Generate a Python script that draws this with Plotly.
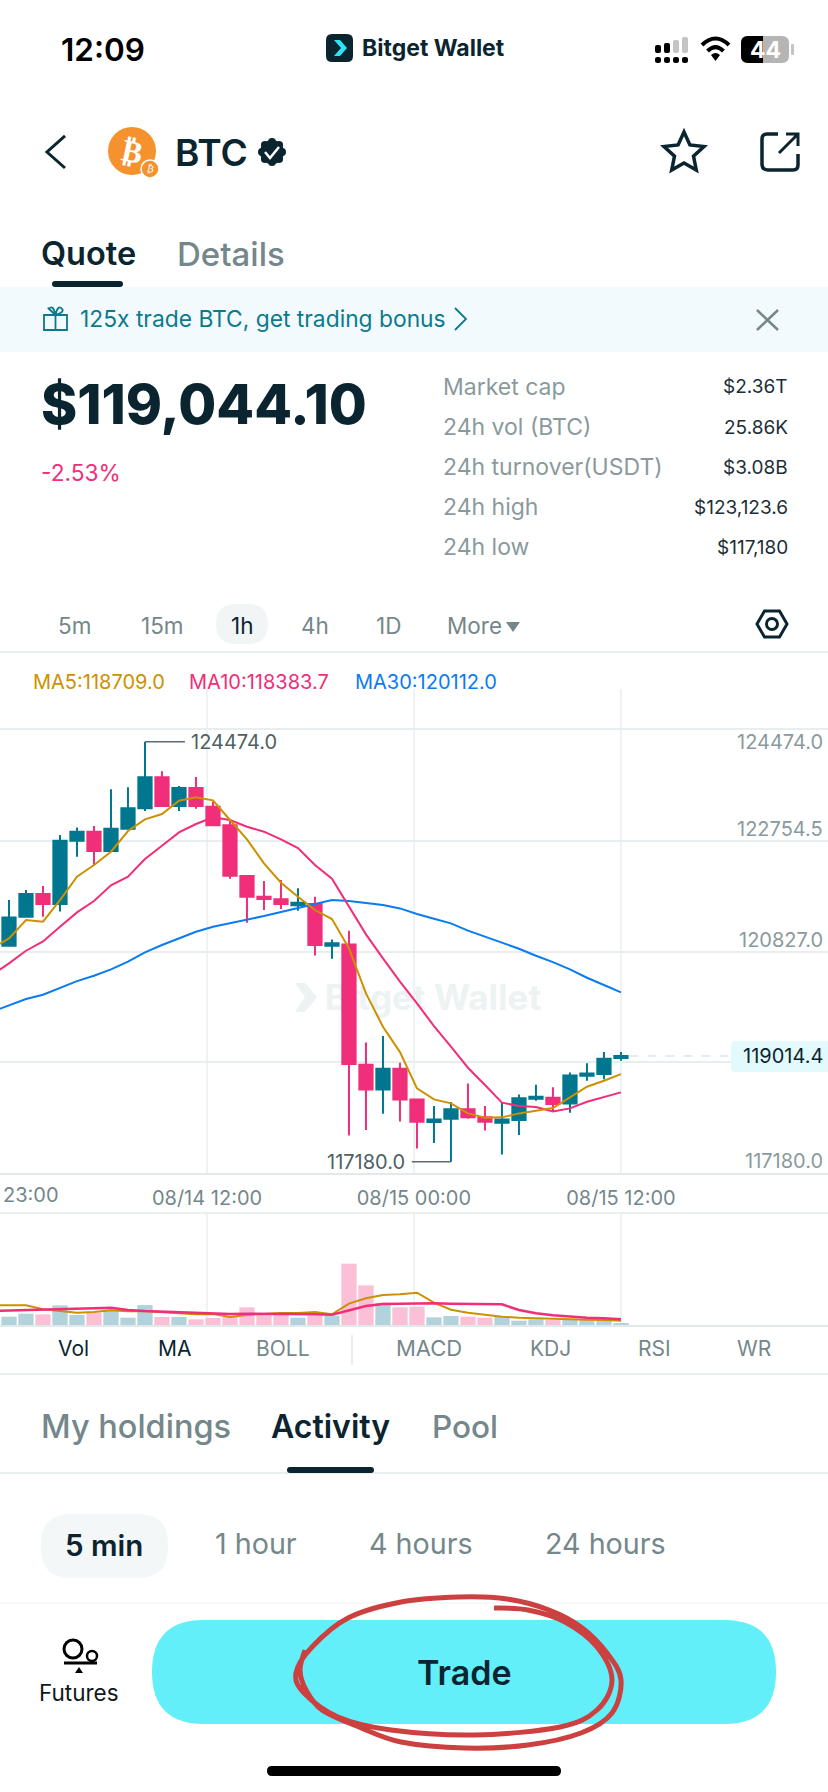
import math
import plotly.graph_objects as go

W, H = 828, 1792
FONT = "Inter"
DARK = "#0B2530"
GREY = "#74878A"
LINE = "#E2E9EA"
TEAL = "#00778F"
PINK = "#F02E79"
GOLD = "#CC9100"
BLUE = "#0A7CF0"

# candles, oldest first (1h)
OPEN = [120931, 121435, 121828, 121655, 122755, 122911, 122575, 122963, 123316, 123855,
        123357, 123669, 123345, 123021, 122141, 121782, 121736, 121632, 121655, 120931,
        120954, 118864, 118436, 118795, 118262, 117869, 117927, 118089, 117950, 117857,
        117903, 118274, 118291, 118193, 118673, 118702, 118980]
HIGH = [121724, 121898, 121967, 122853, 122986, 123009, 123646, 123681, 124474, 123959,
        123704, 123860, 123432, 123114, 122147, 122054, 122072, 121927, 121782, 121041,
        121192, 119252, 119362, 118899, 118262, 118147, 118216, 118540, 118147, 118205,
        118349, 118517, 118471, 118731, 118888, 119084, 119084]
LOW = [120931, 121435, 121435, 121527, 122477, 122320, 122575, 122963, 123270, 123357,
       123270, 123310, 123021, 122095, 121331, 121551, 121568, 121539, 120763, 120705,
       117637, 117730, 118014, 117880, 117411, 117504, 117180, 117927, 117724, 117307,
       117643, 118239, 118043, 118031, 118587, 118610, 118934]
CLOSE = [121423, 121828, 121655, 122755, 122911, 122575, 122963, 123316, 123855, 123357,
         123669, 123357, 123021, 122147, 121782, 121742, 121655, 121678, 120943, 120972,
         118876, 118436, 118795, 118262, 117875, 117915, 118089, 117950, 117875, 117915,
         118280, 118309, 118181, 118679, 118714, 118969, 119015]
VOLUME = [708, 963, 907, 1672, 850, 1048, 1218, 623, 1700, 680, 680, 482, 595, 708, 1502,
          850, 907, 623, 793, 793, 5213, 3372, 1898, 1502, 1558, 652, 765, 708, 623, 708,
          368, 482, 425, 453, 453, 453, 113]

# moving averages start one candle left of the screen
MA5 = [120885, 121058, 121377, 121348, 121724, 122129, 122332, 122564, 122923, 123125,
       123218, 123449, 123507, 123455, 123114, 122778, 122361, 122025, 121782, 121551,
       121394, 120885, 120103, 119524, 119084, 118453, 118262, 118193, 118019, 117944,
       117950, 118019, 118066, 118112, 118297, 118482, 118587, 118702]
MA10 = [120422, 120624, 120844, 121006, 121261, 121510, 121707, 121979, 122129, 122436,
        122668, 122899, 123044, 123160, 123114, 122998, 122911, 122778, 122627, 122332,
        122095, 121620, 121128, 120711, 120306, 119930, 119536, 119177, 118812, 118511,
        118205, 118147, 118129, 118054, 118106, 118222, 118309, 118384]
MA30 = [119785, 119901, 120005, 120080, 120202, 120317, 120410, 120520, 120653, 120815,
        120943, 121064, 121174, 121261, 121319, 121377, 121446, 121516, 121585, 121655,
        121724, 121707, 121678, 121637, 121579, 121481, 121400, 121319, 121192, 121087,
        120983, 120879, 120757, 120647, 120520, 120375, 120248, 120121]
VOL_MA5 = [1672, 1672, 1672, 1332, 1190, 1048, 1105, 1247, 1162, 1162, 1077, 992, 907, 935,
           680, 850, 935, 1020, 1020, 1105, 907, 1813, 2267, 2550, 2606, 2748, 1898, 1303,
           1048, 850, 708, 623, 567, 510, 482, 453, 425, 368]
VOL_MA10 = [1190, 1218, 1247, 1275, 1303, 1360, 1417, 1473, 1275, 1190, 1133, 1105, 1077,
            1020, 935, 963, 963, 935, 935, 907, 878, 1275, 1615, 1785, 1813, 1842, 1842,
            1813, 1813, 1757, 1757, 1275, 992, 822, 708, 623, 567, 482]

GRID_PRICES = [124695, 122754.5, 120827, 118912]
TIME_TICKS = [-0.47, 11.65, 23.82, 36]
TIME_LABELS = ["", "08/14 12:00", "08/15 00:00", "08/15 12:00"]
LAST_PRICE = 119014.4
MAX_PRICE = 124474
MIN_PRICE = 117180

candle_x = list(range(len(OPEN)))
ma_x = list(range(-1, len(OPEN)))
vol_colors = ["#B3D3DC" if c >= o else "#FBBFD6" for o, c in zip(OPEN, CLOSE)]

shapes = []
notes = []


def fx(x):
    return x / W


def fy(y):
    return 1 - y / H


def text(x, y, s, size, color=DARK, anchor="left", weight=400, family=FONT, angle=0):
    # annotations carry a little padding of their own
    x = x - 2 if anchor == "left" else x + 3 if anchor == "right" else x
    notes.append(dict(x=fx(x), y=fy(y), xref="paper", yref="paper", text=s, showarrow=False,
                      xanchor=anchor, yanchor="middle", textangle=angle,
                      font=dict(size=size, color=color, family=family, weight=weight)))


def svg(d, fill=None, color=None, width=0, layer="above"):
    out = []
    is_x = True
    for t in d.split():
        if t.isalpha():
            out.append(t)
        else:
            out.append(f"{fx(float(t)):.5f}" if is_x else f"{fy(float(t)):.5f}")
            is_x = not is_x
    s = dict(type="path", xref="paper", yref="paper", path=" ".join(out), layer=layer,
             line=dict(color=color or "rgba(0,0,0,0)", width=width))
    if fill:
        s["fillcolor"] = fill
    shapes.append(s)


def box(x0, y0, x1, y1, fill, r=0, color=None, width=0):
    if r == 0:
        d = f"M {x0} {y0} L {x1} {y0} L {x1} {y1} L {x0} {y1} Z"
    else:
        d = (f"M {x0 + r} {y0} L {x1 - r} {y0} Q {x1} {y0} {x1} {y0 + r} L {x1} {y1 - r} "
             f"Q {x1} {y1} {x1 - r} {y1} L {x0 + r} {y1} Q {x0} {y1} {x0} {y1 - r} "
             f"L {x0} {y0 + r} Q {x0} {y0} {x0 + r} {y0} Z")
    svg(d, fill=fill, color=color, width=width)


def dot(cx, cy, r, fill=None, color=None, width=0):
    s = dict(type="circle", xref="paper", yref="paper", x0=fx(cx - r), x1=fx(cx + r),
             y0=fy(cy + r), y1=fy(cy - r), line=dict(color=color or "rgba(0,0,0,0)", width=width))
    if fill:
        s["fillcolor"] = fill
    shapes.append(s)


def hline(x0, x1, y, color=LINE, width=1.5):
    svg(f"M {x0} {y} L {x1} {y}", color=color, width=width)


# status bar
text(61, 50, "12:09", 31.5, "#000000", weight=600)
box(326, 34, 353, 62, DARK, r=6)
svg("M 334 40 L 340 40 L 347 48 L 340 56 L 334 56 L 341 48 Z", fill="#2CE5F5")
text(362, 48, "Bitget Wallet", 23, DARK, weight=700)
for x, top, c in [(655, 45, "#000"), (664, 43, "#000"), (673, 40, "#C4C4C4"), (682, 37, "#C4C4C4")]:
    box(x, top, x + 6, 53, c, r=2)
    box(x, 57, x + 6, 63, "#000", r=2.5)
svg("M 702 45 Q 715.5 32 729 45", color="#000", width=4)
svg("M 707.5 51 Q 715.5 43 723.5 51", color="#000", width=4)
svg("M 711 55 Q 715.5 51 720 55 L 715.5 61 Z", fill="#000")
box(741, 36, 789, 63, "#B5B5B5", r=7)
svg("M 748 36 L 763 36 L 763 63 L 748 63 Q 741 63 741 56 L 741 43 Q 741 36 748 36 Z", fill="#000")
box(791, 44, 794, 55, "#C4C4C4", r=1)
text(765, 50, "44", 23, "#FFFFFF", anchor="center", weight=700)

# header
svg("M 65 136 L 47 152 L 65 168", color=DARK, width=3)
dot(132, 151, 24, fill="#F6922E")
text(132, 151, "₿", 31, "#FFFFFF", anchor="center", weight=700, family="DejaVu Sans", angle=12)
dot(150, 169, 9, fill="#F6922E", color="#FFFFFF", width=1.5)
text(150, 169, "₿", 10, "#FFFFFF", anchor="center", family="DejaVu Sans", angle=12)
text(175, 152, "BTC", 37, DARK, weight=600)
dot(272, 152, 12, fill=DARK)
for k in range(8):
    ang = k * math.pi / 4
    dot(272 + 10 * math.cos(ang), 152 + 10 * math.sin(ang), 4, fill=DARK)
svg("M 265 152 L 270 158 L 279 147", color="#FFFFFF", width=2.5)
star = []
for k in range(10):
    rad = 21 if k % 2 == 0 else 10
    ang = -math.pi / 2 + k * math.pi / 5
    star.append(f"{684 + rad * math.cos(ang):.1f} {153 + rad * math.sin(ang):.1f}")
svg("M " + " L ".join(star) + " Z", color=DARK, width=3.5)
svg("M 778 134 L 767 134 Q 762 134 762 139 L 762 164 Q 762 170 768 170 L 793 170 Q 798 170 798 165 L 798 154",
    color=DARK, width=3.5)
svg("M 779 153 L 798 134 M 786 134 L 798 134 L 798 146", color=DARK, width=3)

# tabs + banner
text(41, 254, "Quote", 32.5, DARK, weight=600)
text(177, 254, "Details", 33, GREY, weight=500)
box(52, 281, 123, 287, DARK, r=3)
box(0, 287, 828, 352, "#F2FAFD")
svg("M 44 315 L 67 315 L 67 330 L 44 330 Z M 55.5 315 L 55.5 330 M 55.5 315 Q 46 306 49 309 Q 53 304 55.5 315 Q 58 304 62 309 Q 65 312 55.5 315",
    color="#0B7A8C", width=1.8)
text(80, 318, "125x trade BTC, get trading bonus", 22.8, "#0B7A8C")
svg("M 455 308 L 466 319 L 455 330", color="#0B7A8C", width=1.8)
svg("M 757 310 L 778 330 M 778 310 L 757 330", color=GREY, width=2.5)

# price block
text(41, 404, "$119,044.10", 55, DARK, weight=800)
text(41, 472, "-2.53%", 22.7, PINK)
STAT_NAMES = ["Market cap", "24h vol (BTC)", "24h turnover(USDT)", "24h high", "24h low"]
STAT_VALUES = ["$2.36T", "25.86K", "$3.08B", "$123,123.6", "$117,180"]
STAT_ROWS = [387, 427, 467, 507, 547]
for name, value, y in zip(STAT_NAMES, STAT_VALUES, STAT_ROWS):
    text(443, y, name, 23, "#8A9A9C")
    text(787, y, value, 19, "#1C2E35", anchor="right")

# interval tabs
box(216, 604, 268, 644, "#F1F5F6", r=20)
for label, x in [("5m", 74), ("15m", 162), ("4h", 315), ("1D", 388)]:
    text(x, 625, label, 22.5, GREY, anchor="center")
text(242, 625, "1h", 22.5, DARK, anchor="center")
text(447, 625, "More", 22.5, GREY)
svg("M 506 622 L 520 622 L 513 632 Z", fill=GREY)
svg("M 757 624 L 764.5 611 L 779.5 611 L 787 624 L 779.5 637 L 764.5 637 Z", color=DARK, width=3)
dot(772, 624, 5.5, color=DARK, width=3)
hline(0, 828, 652)

# MA legend
text(33, 682, "MA5:118709.0", 20, GOLD)
text(189, 682, "MA10:118383.7", 20, PINK)
text(355, 682, "MA30:120112.0", 20, BLUE)

# watermark sits under the candles
svg("M 295 983 L 305 983 L 317 997 L 305 1012 L 295 1012 L 305 997 Z", fill="#EDF2F2", layer="below")
shapes.append(dict(type="rect", xref="paper", yref="paper", layer="below",
                   x0=fx(331), x1=fx(535), y0=fy(1013), y1=fy(978), line=dict(width=0),
                   label=dict(text="Bitget Wallet", font=dict(size=35, color="#EDF2F2", family=FONT, weight=700),
                              textposition="middle center")))

# price labels and leader lines
for value, label, anchor, shift in [(MAX_PRICE, "124474.0", "middle", 0), (122754.5, "122754.5", "bottom", -2),
                                    (120827, "120827.0", "bottom", -2), (MIN_PRICE, "117180.0", "middle", 1)]:
    notes.append(dict(x=fx(825), y=value, xref="paper", yref="y", text=label, showarrow=False,
                      xanchor="right", yanchor=anchor, yshift=shift,
                      font=dict(size=20, color="#8A9A9C", family=FONT)))
shapes.append(dict(type="line", xref="x", yref="y", x0=8, x1=10.35, y0=MAX_PRICE, y1=MAX_PRICE,
                   line=dict(color="#5B6B70", width=1.5)))
shapes.append(dict(type="line", xref="x", yref="y", x0=23.7, x1=26, y0=MIN_PRICE, y1=MIN_PRICE,
                   line=dict(color="#5B6B70", width=1.5)))
notes.append(dict(x=10.58, y=MAX_PRICE, xref="x", yref="y", text="124474.0", showarrow=False,
                  xanchor="left", yanchor="middle", font=dict(size=20, color="#4F5F64", family=FONT)))
notes.append(dict(x=23.4, y=MIN_PRICE, xref="x", yref="y", text="117180.0", showarrow=False,
                  xanchor="right", yanchor="middle", font=dict(size=20, color="#4F5F64", family=FONT)))
# last price tag
shapes.append(dict(type="line", xref="x", yref="y", x0=36.5, x1=42.5, y0=LAST_PRICE, y1=LAST_PRICE,
                   line=dict(color="#DDE5E6", width=1.5, dash="dash")))
box(731, 1041, 832, 1072, "#E3FAFC", r=5)
notes.append(dict(x=fx(825), y=LAST_PRICE, xref="paper", yref="y", text="119014.4", showarrow=False,
                  xanchor="right", yanchor="middle", font=dict(size=20, color=DARK, family=FONT)))

# left edge time label, the rest of it runs off screen in the app
text(3, 1195, "23:00", 20, GREY)

# indicator switch row
for label, x, c, size in [("Vol", 73, DARK, 21), ("MA", 174, DARK, 21), ("BOLL", 283, GREY, 21),
                          ("MACD", 429, GREY, 22), ("KDJ", 550, GREY, 21), ("RSI", 654, GREY, 21),
                          ("WR", 754, GREY, 21)]:
    text(x, 1348, label, size, c, anchor="center")
svg("M 352 1335 L 352 1365", color=LINE, width=1.5)
hline(0, 828, 1374)

# lower tabs
text(41, 1426, "My holdings", 32.5, GREY, weight=500)
text(271, 1426, "Activity", 32, DARK, weight=600)
text(432, 1426, "Pool", 31.5, GREY, weight=500)
hline(0, 828, 1473)
box(287, 1467, 374, 1473, DARK, r=3)

# time range pills
box(41, 1514, 168, 1578, "#F4F7F8", r=30)
text(104, 1545, "5 min", 29.5, DARK, anchor="center", weight=600)
for label, x in [("1 hour", 256), ("4 hours", 421), ("24 hours", 605)]:
    text(x, 1543, label, 28.7, GREY, anchor="center")
hline(0, 828, 1603, color="#F0F3F4", width=1)

# footer
dot(73, 1649, 9, color="#000", width=3)
dot(92, 1656, 5, color="#000", width=2.5)
svg("M 64 1663 L 97 1663", color="#000", width=3)
svg("M 75 1673 L 83 1673 L 79 1667 Z", fill="#000")
text(79, 1692, "Futures", 22.5, "#10181C", anchor="center")
box(152, 1620, 776, 1724, "#62EFFA", r=52)
text(464, 1672, "Trade", 34, DARK, anchor="center", weight=600)
box(267, 1766, 561, 1776, "#000000", r=5)

# hand drawn ring around the button
RING = [(494, 1608), (528, 1610), (565, 1622), (597, 1647), (612, 1680), (597, 1710), (560, 1727),
        (475, 1735), (391, 1730), (338, 1717), (304, 1693), (296, 1673), (312, 1647), (348, 1618),
        (401, 1602), (459, 1597), (507, 1599), (549, 1610), (581, 1627), (607, 1653), (621, 1680),
        (612, 1713), (581, 1733), (528, 1745), (465, 1748), (401, 1742), (359, 1727), (322, 1710),
        (306, 1690), (300, 1670), (305, 1650)]
ring = [f"M {RING[0][0]} {RING[0][1]}"]
for k in range(len(RING) - 1):
    p0 = RING[max(k - 1, 0)]
    p1 = RING[k]
    p2 = RING[k + 1]
    p3 = RING[min(k + 2, len(RING) - 1)]
    c1 = (p1[0] + (p2[0] - p0[0]) / 6, p1[1] + (p2[1] - p0[1]) / 6)
    c2 = (p2[0] - (p3[0] - p1[0]) / 6, p2[1] - (p3[1] - p1[1]) / 6)
    ring.append(f"C {c1[0]:.1f} {c1[1]:.1f} {c2[0]:.1f} {c2[1]:.1f} {p2[0]} {p2[1]}")
svg(" ".join(ring), color="#CC4040", width=5)

fig = go.Figure()
fig.add_trace(go.Candlestick(
    x=candle_x, open=OPEN, high=HIGH, low=LOW, close=CLOSE, name="BTC",
    whiskerwidth=0,
    increasing=dict(line=dict(color=TEAL, width=2), fillcolor=TEAL),
    decreasing=dict(line=dict(color=PINK, width=2), fillcolor=PINK)))
fig.add_trace(go.Scatter(x=ma_x, y=MA30, mode="lines", name="MA30", line=dict(color=BLUE, width=2)))
fig.add_trace(go.Scatter(x=ma_x, y=MA10, mode="lines", name="MA10", line=dict(color=PINK, width=2)))
fig.add_trace(go.Scatter(x=ma_x, y=MA5, mode="lines", name="MA5", line=dict(color=GOLD, width=2)))

fig.add_trace(go.Bar(x=candle_x, y=VOLUME, marker=dict(color=vol_colors, line=dict(width=0)),
                     xaxis="x2", yaxis="y2", name="Vol"))
fig.add_trace(go.Scatter(x=ma_x, y=VOL_MA5, mode="lines", line=dict(color=GOLD, width=2),
                         xaxis="x2", yaxis="y2", name="Vol MA5"))
fig.add_trace(go.Scatter(x=ma_x, y=VOL_MA10, mode="lines", line=dict(color=PINK, width=2.5),
                         xaxis="x2", yaxis="y2", name="Vol MA10"))

x_range = [-0.529, 48.18]
fig.update_layout(
    width=W, height=H, margin=dict(l=0, r=0, t=0, b=0, autoexpand=False), autosize=False,
    paper_bgcolor="#FFFFFF", plot_bgcolor="rgba(0,0,0,0)", showlegend=False,
    boxgap=0.22, boxgroupgap=0, bargap=0.1,
    shapes=shapes, annotations=notes,
    xaxis=dict(domain=[0, 1], range=x_range, rangeslider=dict(visible=False), anchor="y",
               tickmode="array", tickvals=TIME_TICKS, ticktext=TIME_LABELS, ticks="",
               ticklabelstandoff=6, automargin=False,
               tickfont=dict(size=20, color=GREY, family=FONT),
               showgrid=True, gridcolor="#EDF2F3", gridwidth=1.5, zeroline=False,
               showline=True, linecolor=LINE, linewidth=1.5),
    yaxis=dict(domain=[fy(1173), fy(689)], range=[116984, 125389], anchor="x",
               tickmode="array", tickvals=GRID_PRICES, showticklabels=False, ticks="",
               showgrid=True, gridcolor="#E8EEEF", gridwidth=1.5, zeroline=False),
    xaxis2=dict(domain=[0, 1], range=x_range, anchor="y2", tickmode="array", tickvals=TIME_TICKS,
                showticklabels=False, ticks="", showgrid=True, gridcolor="#EDF2F3", gridwidth=1.5,
                zeroline=False, showline=True, linecolor=LINE, linewidth=1.5),
    yaxis2=dict(domain=[fy(1325), fy(1213)], range=[0, 9520], anchor="x2", showticklabels=False,
                ticks="", showgrid=False, zeroline=False, showline=False),
)
shapes_top = dict(type="line", xref="paper", yref="paper", x0=0, x1=1, y0=fy(1213), y1=fy(1213),
                  line=dict(color=LINE, width=1.5))
fig.add_shape(**shapes_top)

fig.write_html("out.html", config=dict(displayModeBar=False),
               post_script="document.body.style.margin='0';document.body.style.overflow='hidden';")
